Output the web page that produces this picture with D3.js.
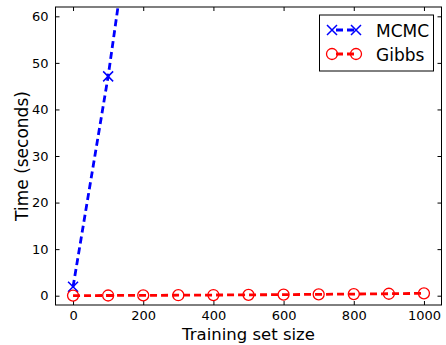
<!DOCTYPE html>
<html>
<head>
<meta charset="utf-8">
<script src="https://cdn.jsdelivr.net/npm/d3@7"></script>
<style>
  body { margin: 0; background: #fff; }
  text { font-family: "DejaVu Sans", sans-serif; fill: #000; }
</style>
</head>
<body>
<svg id="chart" width="446" height="345"></svg>
<script>
// values
const mcmcX = [0, 100, 200];
const mcmcY = [1.9, 47.1, 100.3];
const gibbsX = [0, 100, 200, 300, 400, 500, 600, 700, 800, 900, 1000];
const gibbsY = [0.02, 0.04, 0.07, 0.1, 0.14, 0.18, 0.23, 0.29, 0.35, 0.42, 0.5];
const xTicks = [0, 200, 400, 600, 800, 1000];
const yTicks = [0, 10, 20, 30, 40, 50, 60];

const svg = d3.select("#chart");
const plotL = 55.5, plotR = 441.5, plotT = 7, plotB = 305;

let x = d3.scaleLinear().domain([-50, 1050]).range([plotL, plotR]);
let y = d3.scaleLinear().domain([-2, 62]).range([plotB, plotT]);

svg.append("clipPath").attr("id", "clip")
    .append("rect")
    .attr("x", plotL).attr("y", plotT)
    .attr("width", plotR - plotL).attr("height", plotB - plotT);

// axes with inward ticks, on all four sides
function styleAxis(g) {
    g.select(".domain").remove();
    g.selectAll("line").attr("stroke", "#000").attr("stroke-width", 1);
    g.selectAll("text").attr("font-size", "13px").attr("fill", "#000");
}

svg.append("g")
    .attr("transform", `translate(0,${plotB})`)
    .call(d3.axisBottom(x).tickValues(xTicks).tickFormat(d3.format("d"))
        .tickSizeInner(-4).tickPadding(6))
    .call(styleAxis);
svg.append("g")
    .attr("transform", `translate(0,${plotT})`)
    .call(d3.axisTop(x).tickValues(xTicks).tickSizeInner(-4).tickFormat(""))
    .call(styleAxis);
svg.append("g")
    .attr("transform", `translate(${plotL},0)`)
    .call(d3.axisLeft(y).tickValues(yTicks).tickSizeInner(-4).tickPadding(7))
    .call(styleAxis);
svg.append("g")
    .attr("transform", `translate(${plotR},0)`)
    .call(d3.axisRight(y).tickValues(yTicks).tickSizeInner(-4).tickFormat(""))
    .call(styleAxis);

svg.append("rect")
    .attr("x", plotL).attr("y", plotT)
    .attr("width", plotR - plotL).attr("height", plotB - plotT)
    .attr("fill", "none").attr("stroke", "#000").attr("stroke-width", 1);

let plot = svg.append("g").attr("clip-path", "url(#clip)");

let line = d3.line().x(d => x(d[0])).y(d => y(d[1]));

let mcmc = mcmcX.map((v, i) => [v, mcmcY[i]]);
let gibbs = gibbsX.map((v, i) => [v, gibbsY[i]]);

function crossPath(cx, cy, s) {
    return `M${cx - s},${cy - s}L${cx + s},${cy + s}M${cx - s},${cy + s}L${cx + s},${cy - s}`;
}

// MCMC
plot.append("path")
    .attr("d", line(mcmc))
    .attr("fill", "none").attr("stroke", "#0000ff")
    .attr("stroke-width", 2.8).attr("stroke-dasharray", "7,4");
plot.selectAll(".xm").data(mcmc).enter().append("path")
    .attr("d", d => crossPath(x(d[0]), y(d[1]), 5))
    .attr("stroke", "#0000ff").attr("stroke-width", 1.5).attr("fill", "none");

// Gibbs
plot.append("path")
    .attr("d", line(gibbs))
    .attr("fill", "none").attr("stroke", "#ff0000")
    .attr("stroke-width", 2.8).attr("stroke-dasharray", "7,4");
plot.selectAll(".om").data(gibbs).enter().append("circle")
    .attr("cx", d => x(d[0])).attr("cy", d => y(d[1])).attr("r", 5.5)
    .attr("fill", "none").attr("stroke", "#ff0000").attr("stroke-width", 1.3);

// axis labels
svg.append("text")
    .attr("x", (plotL + plotR) / 2).attr("y", 340)
    .attr("text-anchor", "middle").attr("font-size", "16.5px")
    .text("Training set size");
svg.append("text")
    .attr("transform", `translate(28,${(plotT + plotB) / 2}) rotate(-90)`)
    .attr("text-anchor", "middle").attr("font-size", "17px")
    .text("Time (seconds)");

// legend
let legend = svg.append("g");
legend.append("rect")
    .attr("x", 319.5).attr("y", 15).attr("width", 114).attr("height", 56)
    .attr("fill", "#fff").attr("stroke", "#000").attr("stroke-width", 1);

let entries = [
    { name: "MCMC", color: "#0000ff", mark: "x", yy: 30 },
    { name: "Gibbs", color: "#ff0000", mark: "o", yy: 54 }
];
entries.forEach(e => {
    legend.append("line")
        .attr("x1", 332).attr("x2", 356).attr("y1", e.yy).attr("y2", e.yy)
        .attr("stroke", e.color).attr("stroke-width", 2.8).attr("stroke-dasharray", "7,4")
        .attr("stroke-dashoffset", -4);
    [332, 356].forEach(cx => {
        if (e.mark === "x") {
            legend.append("path").attr("d", crossPath(cx, e.yy, 5))
                .attr("stroke", e.color).attr("stroke-width", 1.5).attr("fill", "none");
        } else {
            legend.append("circle").attr("cx", cx).attr("cy", e.yy).attr("r", 5.5)
                .attr("fill", "none").attr("stroke", e.color).attr("stroke-width", 1.3);
        }
    });
    legend.append("text")
        .attr("x", 376).attr("y", e.yy + 6.5).attr("font-size", "17px")
        .text(e.name);
});
</script>
</body>
</html>
